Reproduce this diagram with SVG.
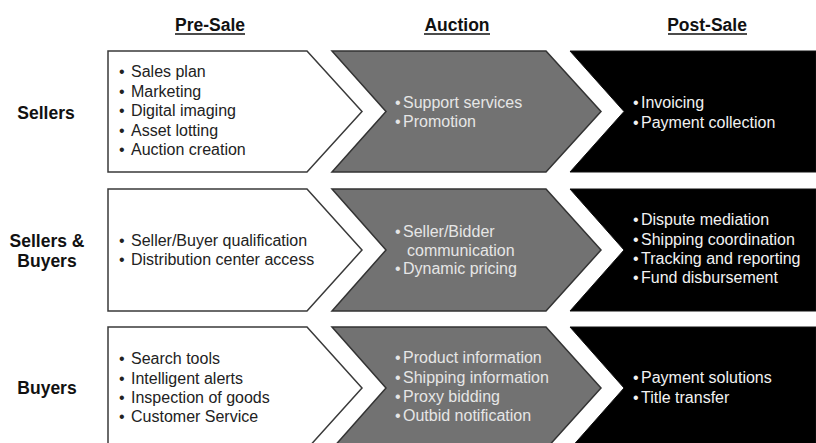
<svg xmlns="http://www.w3.org/2000/svg" width="816" height="443" viewBox="0 0 816 443">
<style>
.hdr{font-family:"Liberation Sans",Arial,sans-serif;font-size:17.5px;font-weight:bold;fill:#111;text-anchor:middle}
.row{font-family:"Liberation Sans",Arial,sans-serif;font-size:17.5px;font-weight:bold;fill:#111;text-anchor:middle}
.t{font-family:"Liberation Sans",Arial,sans-serif;font-size:16px}
.tw{fill:#222}
.tg{fill:#e6e6e6}
.tb{fill:#f2f2f2}
.w{fill:#fff;stroke:#3a3a3a;stroke-width:1.5}
.g{fill:#727272;stroke:#333;stroke-width:1.5}
.b{fill:#000;stroke:#111;stroke-width:1}
.ul{stroke:#111;stroke-width:1.4}
</style>
<rect width="816" height="443" fill="#fff"/>
<g id="headers">
<text class="hdr" x="210" y="31">Pre-Sale</text>
<line class="ul" x1="175" y1="34" x2="245" y2="34"/>
<text class="hdr" x="457" y="31">Auction</text>
<line class="ul" x1="424" y1="34" x2="490" y2="34"/>
<text class="hdr" x="707" y="31">Post-Sale</text>
<line class="ul" x1="668" y1="34" x2="747" y2="34"/>
</g>
<g id="row-labels">
<text class="row" x="46" y="119">Sellers</text>
<text class="row" x="47" y="247">Sellers &amp;</text>
<text class="row" x="47" y="267">Buyers</text>
<text class="row" x="47" y="394">Buyers</text>
</g>
<g id="sellers-presale">
<path class="w" d="M108,51 L307,51 L362,111.5 L307,172 L108,172 Z"/>
<g class="t tw">
<text x="119" y="77">•</text><text x="131" y="77">Sales plan</text>
<text x="119" y="96.5">•</text><text x="131" y="96.5">Marketing</text>
<text x="119" y="116">•</text><text x="131" y="116">Digital imaging</text>
<text x="119" y="135.5">•</text><text x="131" y="135.5">Asset lotting</text>
<text x="119" y="155">•</text><text x="131" y="155">Auction creation</text>
</g>
</g>
<g id="sellers-auction">
<path class="g" d="M332,51 L546,51 L601,111.5 L546,172 L332,172 L386,111.5 Z"/>
<g class="t tg">
<text x="395" y="108">•</text><text x="403" y="108">Support services</text>
<text x="395" y="127">•</text><text x="403" y="127">Promotion</text>
</g>
</g>
<g id="sellers-postsale">
<path class="b" d="M570,51 L816,51 L816,172 L570,172 L624,111.5 Z"/>
<g class="t tb">
<text x="633" y="108">•</text><text x="641" y="108">Invoicing</text>
<text x="633" y="128">•</text><text x="641" y="128">Payment collection</text>
</g>
</g>
<g id="both-presale">
<path class="w" d="M108,189 L307,189 L362,250 L307,311 L108,311 Z"/>
<g class="t tw">
<text x="119" y="246">•</text><text x="131" y="246">Seller/Buyer qualification</text>
<text x="119" y="265">•</text><text x="131" y="265">Distribution center access</text>
</g>
</g>
<g id="both-auction">
<path class="g" d="M332,189 L546,189 L601,250 L546,311 L332,311 L386,250 Z"/>
<g class="t tg">
<text x="395" y="237">•</text><text x="403" y="237">Seller/Bidder</text>
<text x="407" y="255.5">communication</text>
<text x="395" y="274">•</text><text x="403" y="274">Dynamic pricing</text>
</g>
</g>
<g id="both-postsale">
<path class="b" d="M570,189 L816,189 L816,311 L570,311 L624,250 Z"/>
<g class="t tb">
<text x="633" y="225">•</text><text x="641" y="225">Dispute mediation</text>
<text x="633" y="244.5">•</text><text x="641" y="244.5">Shipping coordination</text>
<text x="633" y="264">•</text><text x="641" y="264">Tracking and reporting</text>
<text x="633" y="283">•</text><text x="641" y="283">Fund disbursement</text>
</g>
</g>
<g id="buyers-presale">
<path class="w" d="M108,327 L307,327 L362,388 L307,449 L108,449 Z"/>
<g class="t tw">
<text x="119" y="364">•</text><text x="131" y="364">Search tools</text>
<text x="119" y="383.5">•</text><text x="131" y="383.5">Intelligent alerts</text>
<text x="119" y="403">•</text><text x="131" y="403">Inspection of goods</text>
<text x="119" y="422">•</text><text x="131" y="422">Customer Service</text>
</g>
</g>
<g id="buyers-auction">
<path class="g" d="M332,327 L546,327 L601,388 L546,449 L332,449 L386,388 Z"/>
<g class="t tg">
<text x="395" y="363">•</text><text x="403" y="363">Product information</text>
<text x="395" y="383">•</text><text x="403" y="383">Shipping information</text>
<text x="395" y="402">•</text><text x="403" y="402">Proxy bidding</text>
<text x="395" y="421">•</text><text x="403" y="421">Outbid notification</text>
</g>
</g>
<g id="buyers-postsale">
<path class="b" d="M570,327 L816,327 L816,449 L570,449 L624,388 Z"/>
<g class="t tb">
<text x="633" y="383">•</text><text x="641" y="383">Payment solutions</text>
<text x="633" y="403">•</text><text x="641" y="403">Title transfer</text>
</g>
</g>
<g id="connectors"></g>
</svg>
